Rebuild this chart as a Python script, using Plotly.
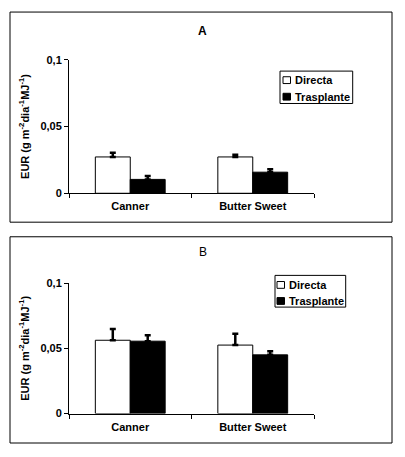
import plotly.graph_objects as go

cultivars = ["Canner", "Butter Sweet"]
series_names = ["Directa", "Trasplante"]

# panel A
a_directa = [0.0272, 0.0272]
a_directa_err = [0.0031, 0.0017]
a_trasplante = [0.0104, 0.0158]
a_trasplante_err = [0.0025, 0.0022]

# panel B
b_directa = [0.0562, 0.0525]
b_directa_err = [0.0087, 0.0087]
b_trasplante = [0.0555, 0.0450]
b_trasplante_err = [0.0045, 0.0028]

FONT = "Liberation Sans, Arial, sans-serif"

# the page has an 8px body margin, so work in reference pixels and shift
OFF = 8
W, H = 405 - OFF * 2, 457 - OFF * 2


def px(x):
    return (x - OFF) / W


def py(y):
    return 1 - (y - OFF) / H


def err(vals):
    return dict(type="data", array=vals, arrayminus=[0] * len(vals), symmetric=False,
                color="black", thickness=2.5, width=3)


fig = go.Figure()

panels = [("x", "y", a_directa, a_directa_err, a_trasplante, a_trasplante_err),
          ("x2", "y2", b_directa, b_directa_err, b_trasplante, b_trasplante_err)]
for xa, ya, d, d_err, t, t_err in panels:
    fig.add_trace(go.Bar(x=cultivars, y=d, name=series_names[0], error_y=err(d_err),
                         marker=dict(color="white", line=dict(color="black", width=1)),
                         xaxis=xa, yaxis=ya, showlegend=False))
    fig.add_trace(go.Bar(x=cultivars, y=t, name=series_names[1], error_y=err(t_err),
                         marker=dict(color="black", line=dict(color="black", width=1)),
                         xaxis=xa, yaxis=ya, showlegend=False))

xax = dict(showline=True, linecolor="black", linewidth=1, ticks="outside", ticklen=4,
           tickcolor="black", tickson="boundaries", showgrid=False, ticklabelstandoff=3,
           tickfont=dict(family=FONT, size=11, color="black", weight="bold"),
           domain=[px(69), px(314)])
yax = dict(range=[0, 0.1], tickvals=[0, 0.05, 0.1], ticktext=["0", "0,05", "0,1"],
           showline=True, linecolor="black", linewidth=1, ticks="outside", ticklen=4,
           tickcolor="black", showgrid=False, zeroline=False,
           tickfont=dict(family=FONT, size=11, color="black", weight="bold"),
           title=dict(text="EUR (g m<sup>-2</sup>dia<sup>-1</sup>MJ<sup>-1</sup>)", standoff=8,
                      font=dict(family=FONT, size=11, color="black", weight="bold")))

shapes = [
    dict(type="rect", xref="paper", yref="paper", x0=px(10), x1=px(392), y0=py(222), y1=py(6),
         line=dict(color="black", width=1)),
    dict(type="rect", xref="paper", yref="paper", x0=px(10), x1=px(392), y0=py(449), y1=py(237),
         line=dict(color="black", width=1)),
]
annotations = [
    dict(text="A", xref="paper", yref="paper", x=px(203), y=py(25), showarrow=False,
         xanchor="center", yanchor="middle",
         font=dict(family=FONT, size=12, color="black", weight="bold")),
    dict(text="B", xref="paper", yref="paper", x=px(203), y=py(253), showarrow=False,
         xanchor="center", yanchor="middle",
         font=dict(family=FONT, size=12, color="black")),
]

# legend boxes drawn by hand: (box x0, x1, y0, y1, square x0, text x, row centres)
legends = [(280, 352.7, 66.7, 100, 283, 293, [76, 93]),
           (275, 345.7, 276.7, 309.3, 277, 287, [286.5, 303])]
fills = ["white", "black"]
for bx0, bx1, by0, by1, sx, tx, rows in legends:
    shapes.append(dict(type="rect", xref="paper", yref="paper", x0=px(bx0), x1=px(bx1),
                       y0=py(by1), y1=py(by0), line=dict(color="black", width=1),
                       fillcolor="white"))
    for name, fill, cy in zip(series_names, fills, rows):
        shapes.append(dict(type="rect", xref="paper", yref="paper", x0=px(sx), x1=px(sx + 7.5),
                           y0=py(cy + 3.5), y1=py(cy - 3.5), fillcolor=fill,
                           line=dict(color="black", width=1)))
        annotations.append(dict(text=name, xref="paper", yref="paper", x=px(tx), y=py(cy),
                                xanchor="left", yanchor="middle", showarrow=False,
                                font=dict(family=FONT, size=11, color="black", weight="bold")))

fig.update_layout(
    width=W, height=H,
    margin=dict(l=0, r=0, t=0, b=0),
    paper_bgcolor="white", plot_bgcolor="white",
    barmode="group", bargap=0.43, bargroupgap=0,
    xaxis=dict(xax, anchor="y"),
    yaxis=dict(yax, domain=[py(192.3), py(55)], anchor="x"),
    xaxis2=dict(xax, anchor="y2"),
    yaxis2=dict(yax, domain=[py(418.7), py(284.7)], anchor="x2"),
    shapes=shapes,
    annotations=annotations,
)

fig.write_html("out.html")
